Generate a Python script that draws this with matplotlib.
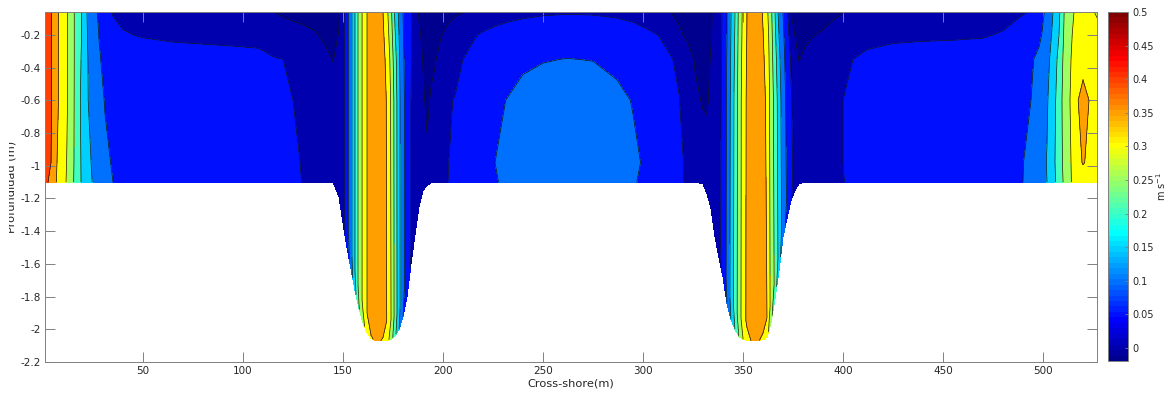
import numpy as np
import matplotlib
matplotlib.use("Agg")
import matplotlib.pyplot as plt
from matplotlib.cm import ScalarMappable
from matplotlib.colors import ListedColormap, Normalize
from matplotlib.ticker import FuncFormatter
from matplotlib.transforms import Bbox, TransformedBbox

plt.rcParams["font.family"] = ["DejaVu Sans"]
plt.rcParams["axes.unicode_minus"] = False

# cross-shore position of each model column (m)
x_m = [
    1, 4, 7, 10, 13, 16, 19, 22, 25, 28, 31, 35, 40,
    50, 65, 80, 95, 108, 115, 120, 125, 130, 136, 141, 145,
    148, 150, 152, 154, 156, 158, 160, 162, 164, 166, 168, 170, 172, 174, 176, 178, 180, 182, 184, 186,
    188, 190, 192, 194, 196, 199, 202, 206, 210,
    214, 220, 226, 232, 240, 250, 262, 275, 287, 295, 302, 308, 314, 318, 322, 326,
    330, 332, 334, 336, 338, 340, 342, 344, 346, 348, 350, 352, 354, 356, 358, 360, 362, 364, 366, 368,
    370, 372, 374, 376, 378,
    381, 385, 390, 395, 400, 405, 412, 425, 440, 455, 470, 480, 488, 494, 498, 502, 505, 508, 511, 514,
    517, 520, 523, 527,
]

# bed elevation under each column (m)
bed_m = [
    -1.1, -1.1, -1.1, -1.1, -1.1, -1.1, -1.1, -1.1, -1.1, -1.1, -1.1, -1.1, -1.1,
    -1.1, -1.1, -1.1, -1.1, -1.1, -1.1, -1.1, -1.1, -1.1, -1.1, -1.1, -1.1,
    -1.19, -1.35, -1.5, -1.63, -1.76, -1.87, -1.96, -2.02, -2.055, -2.067, -2.07, -2.07, -2.068, -2.06,
    -2.04, -2.0, -1.92, -1.8, -1.6, -1.42,
    -1.25, -1.15, -1.12, -1.105, -1.1, -1.1, -1.1, -1.1, -1.1,
    -1.1, -1.1, -1.1, -1.1, -1.1, -1.1, -1.1, -1.1, -1.1, -1.1, -1.1, -1.1, -1.1, -1.1, -1.1, -1.1,
    -1.11, -1.17, -1.26, -1.435, -1.56, -1.68, -1.84, -1.94, -2.0, -2.045, -2.06, -2.068, -2.07, -2.07,
    -2.068, -2.063, -2.05, -1.96, -1.81, -1.64, -1.435, -1.32, -1.21, -1.15, -1.11,
    -1.1, -1.1, -1.1, -1.1, -1.1, -1.1, -1.1, -1.1, -1.1, -1.1, -1.1, -1.1, -1.1, -1.1, -1.1, -1.1,
    -1.1, -1.1, -1.1, -1.1, -1.1, -1.1, -1.1, -1.1,
]

# fixed depths of the upper four layers (m); the last two follow the bed
layer_z = [-0.06, -0.2, -0.35, -0.6]
near_bed_offset = 0.12

# cross-shore velocity (m/s) per layer, same column order as x_m
u_surface = [
    0.430, 0.405, 0.358, 0.325, 0.292, 0.244, 0.206, 0.150, 0.120, 0.092, 0.073, 0.047, 0.040,
    0.035, 0.032, 0.030, 0.026, 0.015, 0.001, -0.006, -0.010, -0.012, -0.014, -0.015, -0.015,
    -0.003, 0.030, 0.075, 0.135, 0.200, 0.267, 0.310, 0.350, 0.375, 0.385, 0.380, 0.350, 0.310, 0.262,
    0.190, 0.140, 0.100, 0.075, 0.053, 0.030,
    -0.002, -0.008, -0.010, -0.011, -0.011, -0.009, -0.006, -0.003, -0.001,
    0.008, 0.020, 0.030, 0.036, 0.041, 0.045, 0.047, 0.046, 0.042, 0.038, 0.030, 0.020, -0.001, -0.005,
    -0.008, -0.010,
    -0.011, -0.011, -0.003, 0.008, 0.030, 0.058, 0.100, 0.150, 0.200, 0.262, 0.310, 0.350, 0.375, 0.385,
    0.372, 0.345, 0.310, 0.262, 0.200, 0.135, 0.100, 0.060, -0.001, -0.006, -0.010,
    -0.012, -0.012, -0.010, -0.006, -0.001, 0.005, 0.012, 0.020, 0.025, 0.028, 0.032, 0.036, 0.045, 0.052,
    0.080, 0.110, 0.150, 0.190, 0.260, 0.290, 0.310, 0.315, 0.310, 0.295,
]
u_020 = [
    0.430, 0.405, 0.358, 0.325, 0.292, 0.244, 0.205, 0.152, 0.124, 0.099, 0.082, 0.062, 0.053,
    0.047, 0.043, 0.041, 0.040, 0.038, 0.026, 0.020, 0.015, 0.010, 0.003, -0.007, -0.012,
    0.002, 0.032, 0.075, 0.135, 0.200, 0.267, 0.310, 0.350, 0.375, 0.385, 0.382, 0.358, 0.322, 0.272,
    0.205, 0.150, 0.103, 0.077, 0.053, 0.032,
    0.003, -0.004, -0.009, -0.008, -0.006, -0.001, 0.004, 0.012, 0.022,
    0.044, 0.055, 0.062, 0.067, 0.072, 0.075, 0.077, 0.076, 0.072, 0.065, 0.057, 0.049, 0.030, 0.004,
    -0.004, -0.008,
    -0.010, -0.010, -0.002, 0.010, 0.032, 0.058, 0.100, 0.152, 0.204, 0.265, 0.313, 0.352, 0.377, 0.385,
    0.375, 0.352, 0.322, 0.268, 0.210, 0.150, 0.108, 0.072, 0.025, -0.001, -0.006,
    -0.006, -0.001, 0.003, 0.010, 0.020, 0.030, 0.038, 0.042, 0.044, 0.045, 0.047, 0.053, 0.065, 0.075,
    0.090, 0.120, 0.160, 0.200, 0.265, 0.295, 0.320, 0.325, 0.322, 0.315,
]
u_035 = [
    0.430, 0.405, 0.358, 0.325, 0.292, 0.244, 0.200, 0.154, 0.127, 0.104, 0.090, 0.080, 0.076,
    0.072, 0.067, 0.065, 0.062, 0.060, 0.053, 0.050, 0.040, 0.030, 0.020, 0.010, -0.001,
    0.008, 0.034, 0.075, 0.135, 0.200, 0.267, 0.310, 0.350, 0.375, 0.385, 0.384, 0.366, 0.335, 0.285,
    0.220, 0.158, 0.107, 0.079, 0.052, 0.031,
    0.010, -0.001, -0.007, -0.004, -0.002, 0.008, 0.018, 0.035, 0.050,
    0.058, 0.068, 0.075, 0.082, 0.093, 0.098, 0.101, 0.099, 0.090, 0.083, 0.075, 0.065, 0.053, 0.040,
    0.012, -0.002,
    -0.008, -0.007, 0.002, 0.012, 0.034, 0.060, 0.103, 0.155, 0.208, 0.268, 0.317, 0.355, 0.378, 0.385,
    0.378, 0.358, 0.330, 0.272, 0.220, 0.162, 0.115, 0.080, 0.045, 0.015, -0.001,
    0.006, 0.012, 0.020, 0.030, 0.040, 0.050, 0.058, 0.065, 0.067, 0.068, 0.070, 0.075, 0.085, 0.095,
    0.110, 0.135, 0.170, 0.215, 0.270, 0.300, 0.335, 0.342, 0.338, 0.325,
]
u_060 = [
    0.430, 0.405, 0.358, 0.325, 0.292, 0.243, 0.195, 0.155, 0.130, 0.112, 0.098, 0.090, 0.085,
    0.085, 0.080, 0.078, 0.075, 0.070, 0.065, 0.058, 0.050, 0.036, 0.025, 0.018, 0.013,
    0.020, 0.036, 0.075, 0.135, 0.200, 0.267, 0.310, 0.350, 0.375, 0.385, 0.385, 0.372, 0.345, 0.295,
    0.232, 0.163, 0.110, 0.080, 0.050, 0.030,
    0.015, 0.003, -0.004, 0.002, 0.008, 0.018, 0.045, 0.052, 0.062,
    0.072, 0.082, 0.092, 0.101, 0.112, 0.120, 0.124, 0.122, 0.110, 0.098, 0.085, 0.073, 0.062, 0.052,
    0.025, 0.005,
    -0.002, -0.003, 0.006, 0.015, 0.036, 0.062, 0.106, 0.160, 0.215, 0.272, 0.322, 0.358, 0.380, 0.385,
    0.380, 0.366, 0.340, 0.278, 0.232, 0.175, 0.123, 0.088, 0.055, 0.030, 0.015,
    0.012, 0.018, 0.030, 0.040, 0.050, 0.060, 0.068, 0.075, 0.078, 0.080, 0.082, 0.085, 0.093, 0.100,
    0.120, 0.145, 0.180, 0.225, 0.275, 0.305, 0.348, 0.358, 0.350, 0.330,
]
u_near_bed = [
    0.420, 0.400, 0.350, 0.318, 0.288, 0.242, 0.199, 0.165, 0.143, 0.123, 0.107, 0.097, 0.090,
    0.088, 0.086, 0.084, 0.081, 0.077, 0.072, 0.067, 0.060, 0.046, 0.033, 0.025, 0.020,
    0.027, 0.036, 0.075, 0.135, 0.200, 0.267, 0.310, 0.350, 0.375, 0.385, 0.385, 0.375, 0.348, 0.300,
    0.235, 0.165, 0.110, 0.080, 0.050, 0.030,
    0.020, 0.012, 0.004, 0.015, 0.020, 0.030, 0.048, 0.057, 0.068,
    0.077, 0.090, 0.100, 0.108, 0.116, 0.122, 0.125, 0.123, 0.116, 0.107, 0.094, 0.081, 0.069, 0.059,
    0.043, 0.022,
    0.012, 0.012, 0.018, 0.025, 0.040, 0.065, 0.110, 0.165, 0.220, 0.275, 0.325, 0.360, 0.380, 0.385,
    0.382, 0.370, 0.350, 0.285, 0.240, 0.185, 0.130, 0.095, 0.060, 0.035, 0.020,
    0.014, 0.020, 0.038, 0.046, 0.050, 0.058, 0.066, 0.074, 0.077, 0.078, 0.080, 0.085, 0.097, 0.105,
    0.128, 0.152, 0.185, 0.230, 0.265, 0.300, 0.340, 0.352, 0.345, 0.325,
]
u_bed = [
    0.410, 0.390, 0.345, 0.315, 0.285, 0.240, 0.200, 0.168, 0.147, 0.127, 0.110, 0.100, 0.092,
    0.089, 0.087, 0.085, 0.082, 0.078, 0.073, 0.068, 0.062, 0.048, 0.035, 0.027, 0.022,
    0.025, 0.033, 0.069, 0.124, 0.184, 0.246, 0.285, 0.322, 0.345, 0.354, 0.354, 0.345, 0.322, 0.276,
    0.216, 0.152, 0.101, 0.074, 0.046, 0.028,
    0.020, 0.014, 0.012, 0.018, 0.022, 0.032, 0.049, 0.057, 0.068,
    0.077, 0.088, 0.098, 0.105, 0.113, 0.120, 0.122, 0.120, 0.113, 0.103, 0.092, 0.080, 0.068, 0.058,
    0.045, 0.025,
    0.013, 0.013, 0.017, 0.023, 0.037, 0.060, 0.101, 0.152, 0.202, 0.253, 0.299, 0.331, 0.350, 0.354,
    0.351, 0.340, 0.322, 0.262, 0.221, 0.170, 0.120, 0.087, 0.055, 0.032, 0.019,
    0.015, 0.022, 0.040, 0.047, 0.049, 0.056, 0.064, 0.072, 0.075, 0.076, 0.078, 0.083, 0.097, 0.106,
    0.130, 0.150, 0.180, 0.225, 0.262, 0.298, 0.330, 0.335, 0.330, 0.320,
]

# colour limits of the velocity scale (m/s)
vel_min, vel_max = -0.0194, 0.5
line_levels = [0, 0.05, 0.1, 0.15, 0.2, 0.25, 0.3, 0.35, 0.4, 0.45]
cbar_ticks = [0, 0.05, 0.1, 0.15, 0.2, 0.25, 0.3, 0.35, 0.4, 0.45, 0.5]
x_ticks = [50, 100, 150, 200, 250, 300, 350, 400, 450, 500]
y_ticks = [-2.2, -2, -1.8, -1.6, -1.4, -1.2, -1, -0.8, -0.6, -0.4, -0.2]


def matlab_jet(m=64):
    # same construction as MATLAB's jet(m)
    n = int(np.ceil(m / 4))
    u = np.concatenate([np.arange(1, n + 1) / n, np.ones(n - 1), np.arange(n, 0, -1) / n])
    g = int(np.ceil(n / 2)) - int(m % 4 == 1) + np.arange(1, len(u) + 1)
    r = g + n
    b = g - n
    g = g[g <= m]
    r = r[r <= m]
    b = b[b >= 1]
    jet = np.zeros((m, 3))
    jet[r - 1, 0] = u[:len(r)]
    jet[g - 1, 1] = u[:len(g)]
    jet[b - 1, 2] = u[-len(b):]
    return jet


JET = matlab_jet(64)


def level_color(v):
    # filled bands take the colormap entry of their lower level
    k = int((v - vel_min) / (vel_max - vel_min) * len(JET))
    return JET[min(max(k, 0), len(JET) - 1)]


x = np.asarray(x_m, float)
bed = np.asarray(bed_m, float)
X = np.tile(x, (len(layer_z) + 2, 1))
Z = np.vstack([np.full_like(x, z) for z in layer_z] + [bed + near_bed_offset, bed])
U = np.array([u_surface, u_020, u_035, u_060, u_near_bed, u_bed])
assert U.shape == X.shape

fill_levels = [-0.05] + line_levels + [0.5]
band_colors = [level_color(max(v, vel_min)) for v in fill_levels[:-1]]

gray = "#808080"
txt = "#262626"

fig = plt.figure(figsize=(11.68, 3.94), dpi=100)
ax = fig.add_axes([45 / 1168, 32 / 394, 1052 / 1168, 350 / 394])
ax.contourf(X, Z, U, levels=fill_levels, colors=band_colors)
ax.contour(X, Z, U, levels=line_levels, colors="#141414", linewidths=0.5)

ax.set_xlim(1, 527)
ax.set_ylim(-2.2, -0.06)
ax.set_xticks(x_ticks)
ax.set_yticks(y_ticks)
fmt = FuncFormatter(lambda v, _: f"{v:g}")
ax.xaxis.set_major_formatter(fmt)
ax.yaxis.set_major_formatter(fmt)
ax.tick_params(direction="in", length=7.5, width=0.7, color=gray, labelsize=7.5,
               labelcolor=txt, top=True, right=True, pad=3)
for sp in ax.spines.values():
    sp.set_edgecolor(gray)
    sp.set_linewidth(0.7)

ax.set_xlabel("Cross-shore(m)", fontsize=8.2, color=txt, labelpad=2)
ylab = ax.set_ylabel("Profundidad (m)", fontsize=8.2, color=txt)
ax.yaxis.set_label_coords((16.5 - 45) / 1052, 0.5)
# the left margin hides the upper part of the rotated label
ylab.set_clip_box(TransformedBbox(Bbox.from_extents(8.5 / 1168, 0, 1, 1), fig.transFigure))
ylab.set_clip_on(True)

cax = fig.add_axes([1108 / 1168, 33 / 394, 20 / 1168, 349 / 394])
sm = ScalarMappable(norm=Normalize(vel_min, vel_max), cmap=ListedColormap(JET))
cb = fig.colorbar(sm, cax=cax)
cb.set_ticks(cbar_ticks)
cb.ax.yaxis.set_major_formatter(fmt)
cb.ax.tick_params(direction="in", length=2, width=0.6, color=gray, labelsize=7,
                  labelcolor=txt, pad=3)
cb.outline.set_edgecolor(gray)
cb.outline.set_linewidth(0.7)
cb.set_label("m s$^{-1}$", fontsize=7, color=txt, labelpad=0.5)

fig.savefig("out.png", dpi=100, facecolor="white")
